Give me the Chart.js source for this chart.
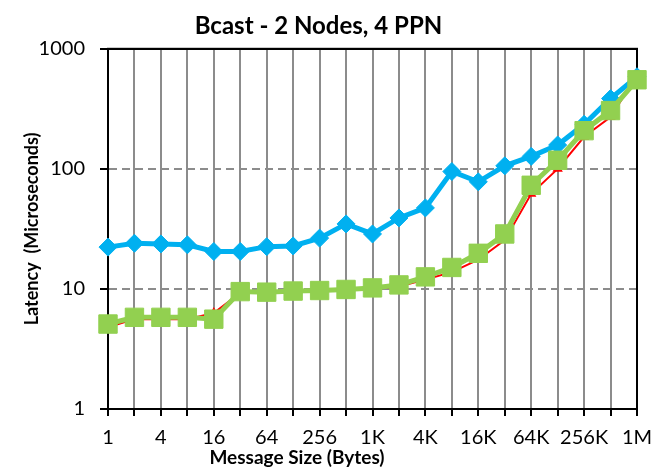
<!DOCTYPE html>
<html>
<head>
<meta charset="utf-8">
<script src="https://cdn.jsdelivr.net/npm/chart.js@4/dist/chart.umd.min.js"></script>
<style>
  html, body { margin: 0; padding: 0; background: #fff; }
  #wrap { width: 654px; height: 471px; }
</style>
</head>
<body>
<div id="wrap"><canvas id="c" width="654" height="471"></canvas></div>
<script>
const categories = ['1','2','4','8','16','32','64','128','256','512','1K','2K','4K','8K','16K','32K','64K','128K','256K','512K','1M'];
const blueValues  = [22.3, 24.0, 23.7, 23.3, 20.5, 20.5, 22.5, 22.8, 26.5, 34.8, 28.7, 39, 47.3, 95, 78, 106, 127, 158, 235, 385, 585];
const greenValues = [5.1, 5.8, 5.8, 5.8, 5.6, 9.5, 9.4, 9.6, 9.7, 9.9, 10.2, 10.8, 12.6, 15.1, 19.8, 28.7, 73, 118, 208, 306, 552];
const redValues   = [4.8, 5.6, 5.6, 5.6, 6.3, 9.3, 9.3, 9.4, 9.5, 9.8, 10.0, 10.5, 12.0, 13.8, 17.5, 25.5, 62, 100, 185, 270, 600];
const yTicks = [1, 10, 100, 1000];
const chartTitle = 'Bcast - 2 Nodes, 4 PPN';
const xTitle = 'Message Size (Bytes)';
const yTitle = 'Latency  (Microseconds)';

const FONT = 'Lato';
const GRID = '#8c8c8c';

const boxPlugin = {
  id: 'box',
  beforeDatasetsDraw(chart) {
    const {ctx, chartArea: a} = chart;
    ctx.save();
    ctx.strokeStyle = '#000';
    ctx.lineWidth = 2;
    ctx.strokeRect(a.left, a.top, a.right - a.left, a.bottom - a.top);
    ctx.restore();
  },
  afterDraw(chart) {
    const {ctx} = chart;
    ctx.save();
    ctx.fillStyle = '#000';
    ctx.font = 'bold 19px ' + FONT;
    ctx.textAlign = 'center';
    ctx.textBaseline = 'middle';
    ctx.fillText(xTitle, 297, 458);
    ctx.restore();
  }
};

new Chart(document.getElementById('c'), {
  type: 'line',
  data: {
    labels: categories,
    datasets: [
      {
        label: 'Green',
        data: greenValues,
        borderColor: '#92D050',
        backgroundColor: '#92D050',
        borderWidth: 5,
        pointStyle: 'rect',
        pointRadius: 13,
        pointBorderWidth: 1,
        pointBorderColor: '#92D050',
        pointBackgroundColor: '#92D050',
        tension: 0,
        order: 1
      },
      {
        label: 'Red',
        data: redValues,
        borderColor: '#FF0000',
        backgroundColor: '#FF0000',
        borderWidth: 2,
        pointStyle: 'triangle',
        pointRadius: 4,
        pointBackgroundColor: '#FF0000',
        pointBorderColor: '#FF0000',
        tension: 0,
        order: 2
      },
      {
        label: 'Blue',
        data: blueValues,
        borderColor: '#00B0F0',
        backgroundColor: '#00B0F0',
        borderWidth: 5,
        pointStyle: 'rectRot',
        pointRadius: 9,
        pointBorderWidth: 1,
        pointBorderColor: '#00B0F0',
        pointBackgroundColor: '#00B0F0',
        tension: 0,
        order: 3
      }
    ]
  },
  options: {
    responsive: false,
    animation: false,
    devicePixelRatio: 1,
    layout: { padding: { left: 0, right: 17, top: 0, bottom: 0 } },
    plugins: {
      legend: { display: false },
      tooltip: { enabled: false },
      title: {
        display: true,
        text: chartTitle,
        color: '#000',
        font: { family: FONT, size: 24, weight: 'bold' },
        padding: { top: 12, bottom: 8 }
      }
    },
    scales: {
      x: {
        type: 'category',
        offset: false,
        afterFit(scale) {
          scale.height = 62;
          scale.paddingLeft = 0;
          scale.paddingRight = 0;
        },
        grid: {
          color: (c) => (c.index === categories.length - 1 ? '#000' : GRID),
          lineWidth: 2,
          tickColor: '#000',
          tickWidth: 2,
          tickLength: 7
        },
        border: { color: '#000', width: 2 },
        ticks: {
          autoSkip: false,
          maxRotation: 0,
          minRotation: 0,
          padding: 10,
          color: '#000',
          font: { family: FONT, size: 20 },
          callback: function (v, i) { return i % 2 === 0 ? categories[i] : ''; }
        },
        title: { display: false }
      },
      y: {
        type: 'logarithmic',
        min: 1,
        max: 1000,
        afterFit(scale) { scale.width = 108; },
        afterBuildTicks(scale) { scale.ticks = yTicks.map(v => ({ value: v })); },
        grid: {
          color: (c) => (c.tick && (c.tick.value === 10 || c.tick.value === 100) ? GRID : '#000'),
          lineWidth: 2,
          tickColor: '#000',
          tickWidth: 2,
          tickLength: 8
        },
        border: {
          color: '#000',
          width: 2,
          dash: (c) => (c.tick && (c.tick.value === 10 || c.tick.value === 100) ? [8, 5] : [])
        },
        ticks: {
          padding: 15,
          color: '#000',
          font: { family: FONT, size: 20 },
          callback: (v) => String(v)
        },
        title: {
          display: true,
          text: yTitle,
          color: '#000',
          font: { family: FONT, size: 18, weight: 'bold' },
          padding: { top: 21, bottom: 0 }
        }
      }
    }
  },
  plugins: [boxPlugin]
});
</script>
</body>
</html>
